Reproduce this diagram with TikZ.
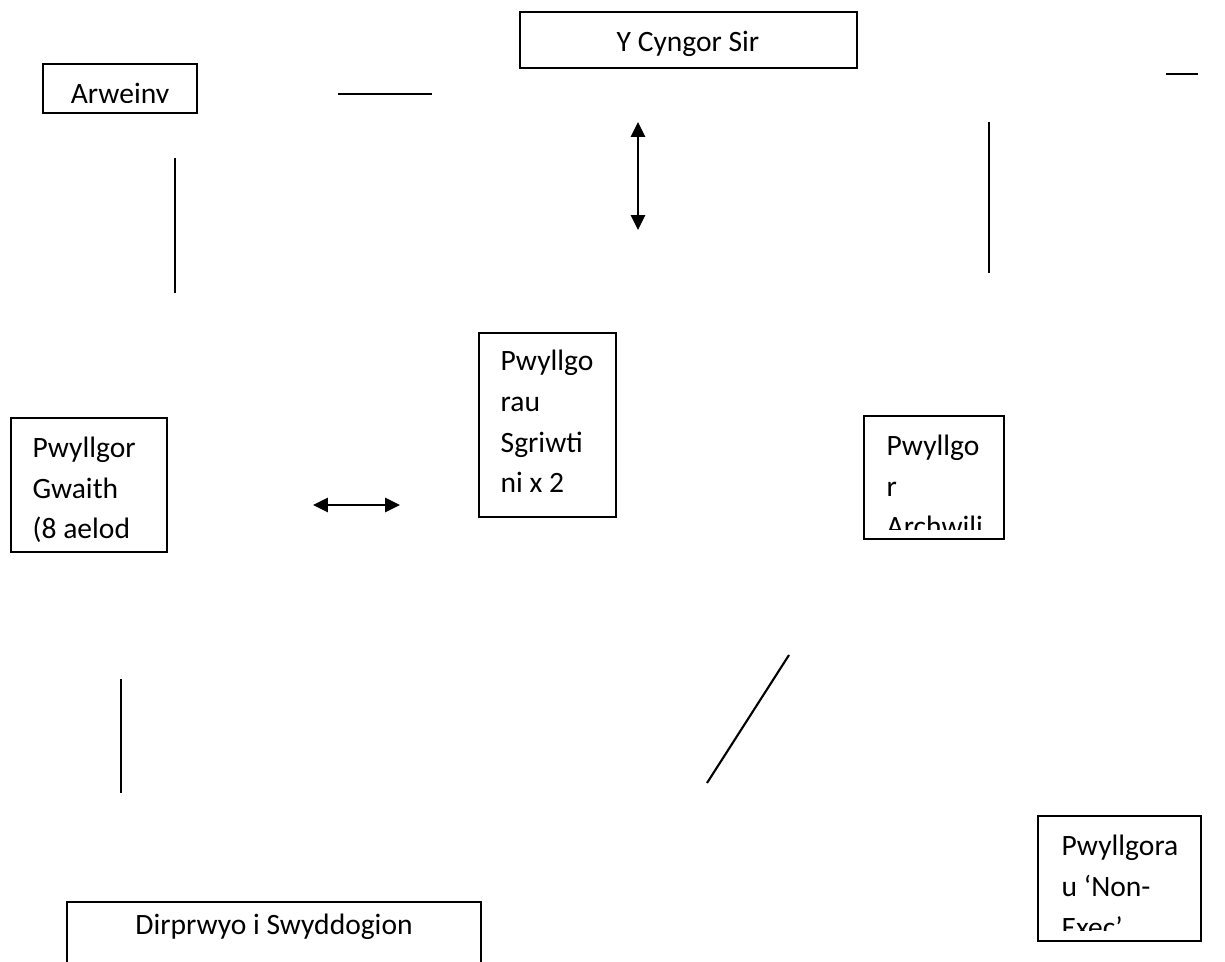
\documentclass[tikz,border=0pt]{standalone}
\usepackage{fontspec}
\setmainfont{Carlito}
\usetikzlibrary{arrows.meta}

\begin{document}
\begin{tikzpicture}[x=0.01cm, y=-0.01cm]
	\tikzset{box/.style={rectangle, draw, line width=0.6pt, inner sep=0pt}}
	\tikzset{txt/.style={inner sep=0pt, align=left, font=\fontsize{8.4pt}{11.6pt}\selectfont}}
	\tikzset{arr/.style={{Triangle[width=4pt,length=4.2pt]}-{Triangle[width=4pt,length=4.2pt]}, line width=0.6pt}}
	\tikzset{ln/.style={line width=0.6pt}}
	\clip (0,0) rectangle (1225,962);
	% boxes
	\node[box, minimum width=3.37cm, minimum height=0.56cm] (cyngor) at (688.5,40) {};
	\node[txt, anchor=base] (cyngor txt) at (688,52) {Y Cyngor Sir};
	\node[box, minimum width=1.54cm, minimum height=0.49cm] (arweinydd) at (120,88.5) {};
	\begin{scope}
		\clip (arweinydd.north west) rectangle ([yshift=0.115cm]arweinydd.south east);
		\node[txt, anchor=base] (arweinydd txt) at (120,103.5) {Arweiny};
	\end{scope}
	\node[box, minimum width=1.37cm, minimum height=1.84cm] (sgriwti) at (547.5,425) {};
	\node[txt, anchor=base west] (sgriwti txt) at (500,493) {Pwyllgo\\rau\\Sgriwti\\ni x 2};
	\node[box, minimum width=1.56cm, minimum height=1.34cm] (gwaith) at (89,485) {};
	\node[txt, anchor=base west] (gwaith txt) at (32,539) {Pwyllgor\\Gwaith\\(8 aelod};
	\node[box, minimum width=1.40cm, minimum height=1.23cm] (archwilio) at (934,477.5) {};
	\begin{scope}
		\clip (archwilio.north west) rectangle ([yshift=0.11cm]archwilio.south east);
		\node[txt, anchor=base west] (archwilio txt) at (886,537) {Pwyllgo\\r\\Archwili};
	\end{scope}
	\node[box, minimum width=1.63cm, minimum height=1.25cm] (nonexec) at (1119.5,878.5) {};
	\begin{scope}
		\clip (nonexec.north west) rectangle ([yshift=0.12cm]nonexec.south east);
		\node[txt, anchor=base west] (nonexec txt) at (1061,937) {Pwyllgora\\u ‘Non-\\Exec’};
	\end{scope}
	\node[box, minimum width=4.14cm, minimum height=1.0cm] (dirprwyo) at (274,952) {};
	\node[txt, anchor=base] (dirprwyo txt) at (274,934) {Dirprwyo i Swyddogion};
	% loose lines
	\coordinate (l1a) at (338,94);   \coordinate (l1b) at (432,94);
	\coordinate (l2a) at (1166,74);  \coordinate (l2b) at (1198,74);
	\coordinate (l3a) at (175,158);  \coordinate (l3b) at (175,293);
	\coordinate (l4a) at (989,122);  \coordinate (l4b) at (989,273);
	\coordinate (l5a) at (121,679);  \coordinate (l5b) at (121,793);
	\coordinate (l6a) at (789,655);  \coordinate (l6b) at (707,783);
	\draw[ln] (l1a) -- (l1b);
	\draw[ln] (l2a) -- (l2b);
	\draw[ln] (l3a) -- (l3b);
	\draw[ln] (l4a) -- (l4b);
	\draw[ln] (l5a) -- (l5b);
	\draw[ln] (l6a) -- (l6b);
	% arrows
	\coordinate (a1a) at (638,122);  \coordinate (a1b) at (638,230);
	\coordinate (a2a) at (313,505);  \coordinate (a2b) at (400,505);
	\draw[arr] (a1a) -- (a1b);
	\draw[arr] (a2a) -- (a2b);
\end{tikzpicture}
\end{document}
